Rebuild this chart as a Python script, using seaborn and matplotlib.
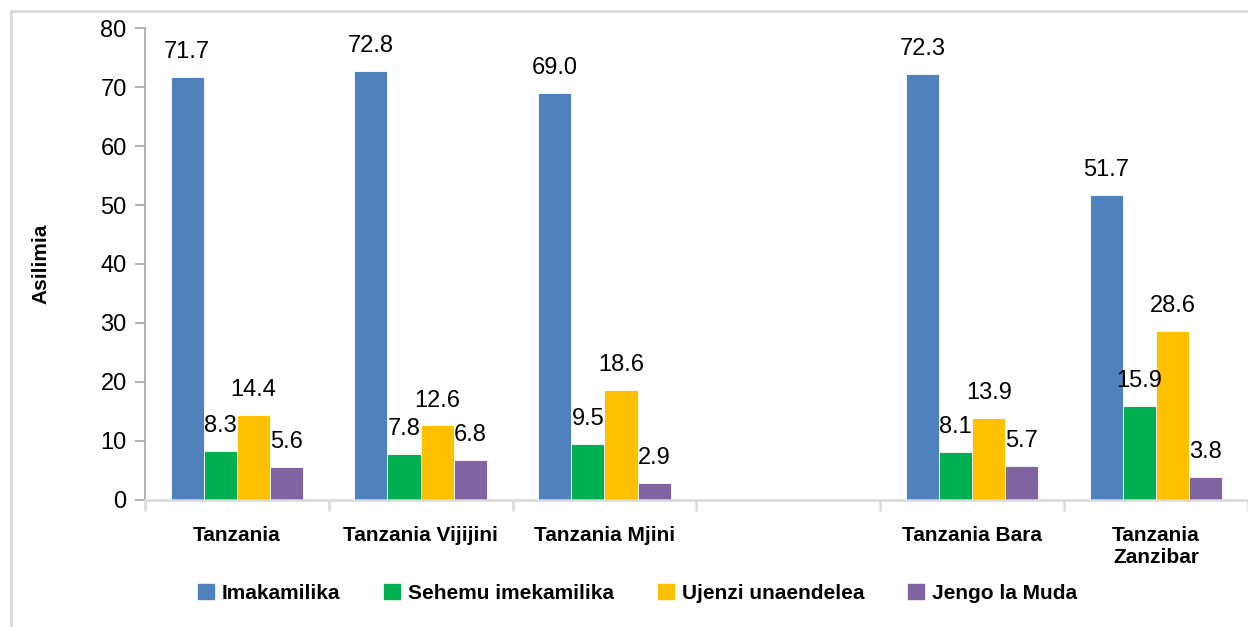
import numpy as np
import pandas as pd
import matplotlib
matplotlib.use('Agg')
import matplotlib.pyplot as plt
import seaborn as sns
from matplotlib.lines import Line2D

categories = ['Tanzania', 'Tanzania Vijijini', 'Tanzania Mjini', ' ', 'Tanzania Bara', 'Tanzania\nZanzibar']
series = ['Imakamilika', 'Sehemu imekamilika', 'Ujenzi unaendelea', 'Jengo la Muda']
imakamilika = [71.7, 72.8, 69.0, np.nan, 72.3, 51.7]
sehemu = [8.3, 7.8, 9.5, np.nan, 8.1, 15.9]
ujenzi = [14.4, 12.6, 18.6, np.nan, 13.9, 28.6]
jengo = [5.6, 6.8, 2.9, np.nan, 5.7, 3.8]
colors = ['#4F81BD', '#00B050', '#FFC000', '#8064A2']

rows = []
for name, vals in zip(series, [imakamilika, sehemu, ujenzi, jengo]):
    for cat, v in zip(categories, vals):
        rows.append({'cat': cat, 'series': name, 'val': v})
df = pd.DataFrame(rows)

sns.set_style('white')
plt.rcParams['font.family'] = ['Liberation Sans', 'DejaVu Sans']
plt.rcParams['text.color'] = 'black'
plt.rcParams['axes.labelcolor'] = 'black'
plt.rcParams['xtick.labelcolor'] = 'black'
plt.rcParams['ytick.labelcolor'] = 'black'

fig = plt.figure(figsize=(12.48, 6.27), dpi=100)
ax = fig.add_axes([0.116, 0.203, 0.884, 0.752])

sns.barplot(data=df, x='cat', y='val', hue='series', order=categories, hue_order=series,
            palette=colors, saturation=1, width=0.72, edgecolor='white', linewidth=0.6, ax=ax)

# value labels
for cont in ax.containers:
    labels = ['' if np.isnan(v) else f'{v:.1f}' for v in cont.datavalues]
    ax.bar_label(cont, labels=labels, padding=10, fontsize=17, color='black')

ax.set_ylim(0, 80)
ax.set_xlim(-0.5, len(categories) - 0.5)
ax.set_yticks(range(0, 81, 10))
ax.set_xlabel('')
ax.set_ylabel('Asilimia', fontsize=15, fontweight='bold', labelpad=36, color='black')

for s in ['top', 'right']:
    ax.spines[s].set_visible(False)
ax.spines['left'].set_color('#a6a6a6')
ax.spines['left'].set_linewidth(1.2)
ax.spines['bottom'].set_color('#d9d9d9')
ax.spines['bottom'].set_linewidth(1.8)

ax.tick_params(axis='y', labelsize=17, length=7, color='#a6a6a6', width=1.2, left=True, pad=6)
ax.tick_params(axis='x', which='major', length=0, labelsize=15, pad=19)
ax.set_xticks(np.arange(-0.5, len(categories)), minor=True)
ax.tick_params(axis='x', which='minor', length=8, color='#d9d9d9', width=1.8, bottom=True)
for lab in ax.get_xticklabels():
    lab.set_fontweight('bold')
    lab.set_verticalalignment('top')

handles = [plt.Rectangle((0, 0), 1, 1, color=c) for c in colors]
leg = ax.legend(handles, series, loc='center', bbox_to_anchor=(0.511, 0.054), bbox_transform=fig.transFigure,
                ncol=4, frameon=False, prop={'weight': 'bold', 'size': 15},
                handlelength=0.75, handleheight=0.75, handletextpad=0.4, columnspacing=2.1)
for t in leg.get_texts():
    t.set_color('black')

# light border round the chart area
fig.add_artist(Line2D([0.009, 0.009], [0.0, 0.982], color='#d9d9d9', linewidth=2))
fig.add_artist(Line2D([0.009, 1.0], [0.982, 0.982], color='#d9d9d9', linewidth=2))

plt.savefig('out.png', dpi=100)
